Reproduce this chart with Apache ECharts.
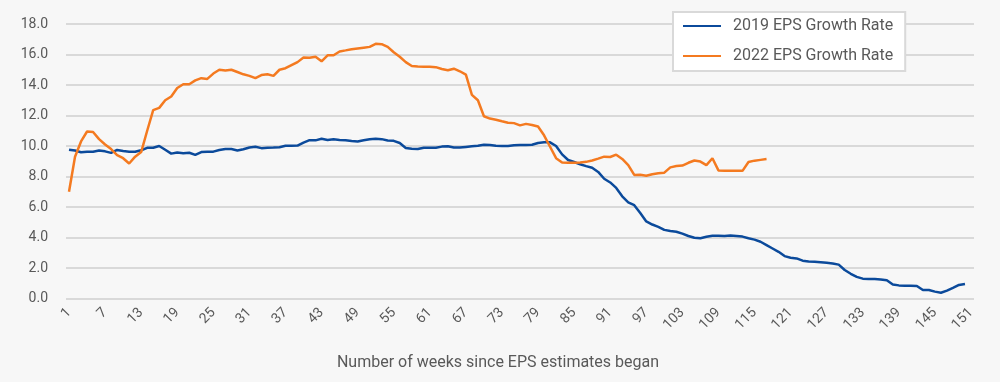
<!DOCTYPE html>
<html>
<head>
<meta charset="utf-8">
<script src="https://cdn.jsdelivr.net/npm/echarts@6/dist/echarts.min.js"></script>
<style>
  html, body { margin: 0; padding: 0; background: #f7f7f7; }
  #chart { width: 1000px; height: 382px; }
</style>
</head>
<body>
<div id="chart"></div>
<script>
// Week categories 1..151
const weeks = [];
for (let w = 1; w <= 151; w++) weeks.push(String(w));

const seriesNames = ['2019 EPS Growth Rate', '2022 EPS Growth Rate'];

const eps2019 = [
  9.76, 9.70, 9.59, 9.63, 9.62, 9.70, 9.65, 9.55, 9.74, 9.67,
  9.63, 9.62, 9.72, 9.88, 9.89, 10.00, 9.75, 9.50, 9.57, 9.53,
  9.56, 9.42, 9.60, 9.63, 9.63, 9.74, 9.80, 9.80, 9.70, 9.79,
  9.90, 9.95, 9.86, 9.89, 9.90, 9.92, 10.02, 10.02, 10.03, 10.22,
  10.38, 10.37, 10.48, 10.40, 10.44, 10.40, 10.38, 10.33, 10.29, 10.38,
  10.44, 10.47, 10.45, 10.36, 10.34, 10.20, 9.87, 9.82, 9.80, 9.88,
  9.88, 9.88, 9.96, 9.98, 9.90, 9.90, 9.94, 9.98, 10.01, 10.08,
  10.06, 10.01, 10.00, 10.00, 10.05, 10.07, 10.07, 10.08, 10.20, 10.24,
  10.24, 10.00, 9.45, 9.08, 8.95, 8.80, 8.68, 8.57, 8.30, 7.85,
  7.61, 7.25, 6.70, 6.30, 6.12, 5.60, 5.05, 4.85, 4.70, 4.50,
  4.42, 4.38, 4.25, 4.10, 3.98, 3.95, 4.05, 4.11, 4.12, 4.10,
  4.13, 4.10, 4.06, 3.95, 3.86, 3.72, 3.50, 3.28, 3.06, 2.78,
  2.67, 2.63, 2.48, 2.43, 2.41, 2.38, 2.35, 2.30, 2.22, 1.87,
  1.62, 1.42, 1.30, 1.28, 1.28, 1.25, 1.20, 0.92, 0.86, 0.84,
  0.83, 0.82, 0.56, 0.56, 0.45, 0.38, 0.52, 0.70, 0.89, 0.95
];

const eps2022 = [
  7.00, 9.30, 10.30, 10.95, 10.92, 10.45, 10.10, 9.80, 9.40, 9.20,
  8.85, 9.30, 9.60, 11.00, 12.35, 12.50, 13.00, 13.25, 13.80, 14.05,
  14.05, 14.30, 14.45, 14.40, 14.75, 15.00, 14.95, 15.00, 14.85, 14.70,
  14.60, 14.45, 14.65, 14.70, 14.60, 15.00, 15.10, 15.30, 15.50, 15.80,
  15.78, 15.85, 15.55, 15.95, 15.95, 16.20, 16.27, 16.35, 16.40, 16.45,
  16.50, 16.70, 16.68, 16.50, 16.15, 15.85, 15.50, 15.25, 15.22, 15.20,
  15.20, 15.17, 15.05, 14.97, 15.07, 14.90, 14.68, 13.35, 13.00, 11.95,
  11.80, 11.72, 11.62, 11.53, 11.50, 11.35, 11.45, 11.38, 11.28, 10.70,
  9.95, 9.20, 8.92, 8.90, 8.90, 8.92, 8.96, 9.05, 9.17, 9.30,
  9.28, 9.43, 9.15, 8.75, 8.10, 8.12, 8.05, 8.15, 8.22, 8.25,
  8.60, 8.69, 8.72, 8.90, 9.05, 8.98, 8.75, 9.20, 8.40, 8.37,
  8.38, 8.37, 8.37, 8.95, 9.04, 9.09, 9.14
];

const xAxisTitle = 'Number of weeks since EPS estimates began';

const chart = echarts.init(document.getElementById('chart'), null, { renderer: 'canvas' });
const textColor = '#595959';
const fontFam = 'Roboto, "DejaVu Sans", sans-serif';

chart.setOption({
  backgroundColor: '#f7f7f7',
  animation: false,
  grid: { left: 66, right: 26, top: 24, bottom: 83.5, containLabel: false },
  legend: {
    data: seriesNames,
    orient: 'vertical',
    left: 673,
    top: 12,
    itemWidth: 38,
    itemHeight: 14,
    itemGap: 14,
    padding: [6, 12, 7, 9],
    backgroundColor: '#ffffff',
    borderColor: '#d9d9d9',
    borderWidth: 2,
    itemStyle: { opacity: 0 },
    textStyle: { color: textColor, fontSize: 16, fontFamily: fontFam, padding: [0, 0, 0, 7] }
  },
  xAxis: {
    type: 'category',
    data: weeks,
    boundaryGap: true,
    axisLine: { show: false },
    axisTick: { show: false },
    axisLabel: {
      interval: 5,
      rotate: 45,
      margin: 12,
      color: textColor,
      fontSize: 14,
      fontFamily: fontFam
    },
    name: xAxisTitle,
    nameLocation: 'middle',
    nameGap: 56,
    nameTextStyle: { color: textColor, fontSize: 16, fontFamily: fontFam, padding: [0, 44, 0, 0] }
  },
  yAxis: {
    type: 'value',
    min: 0,
    max: 18,
    interval: 2,
    axisLine: { show: false },
    axisTick: { show: false },
    axisLabel: {
      margin: 18,
      color: textColor,
      fontSize: 14,
      fontFamily: fontFam,
      formatter: v => v.toFixed(1)
    },
    splitLine: { lineStyle: { color: '#d9d9d9', width: 2 } }
  },
  series: [
    {
      name: seriesNames[0],
      type: 'line',
      data: eps2019,
      symbol: 'none',
      showSymbol: false,
      lineStyle: { color: '#0b4a9b', width: 2.5 },
      itemStyle: { color: '#0b4a9b' }
    },
    {
      name: seriesNames[1],
      type: 'line',
      data: eps2022,
      symbol: 'none',
      showSymbol: false,
      lineStyle: { color: '#f47a20', width: 2.5 },
      itemStyle: { color: '#f47a20' }
    }
  ]
});
</script>
</body>
</html>
